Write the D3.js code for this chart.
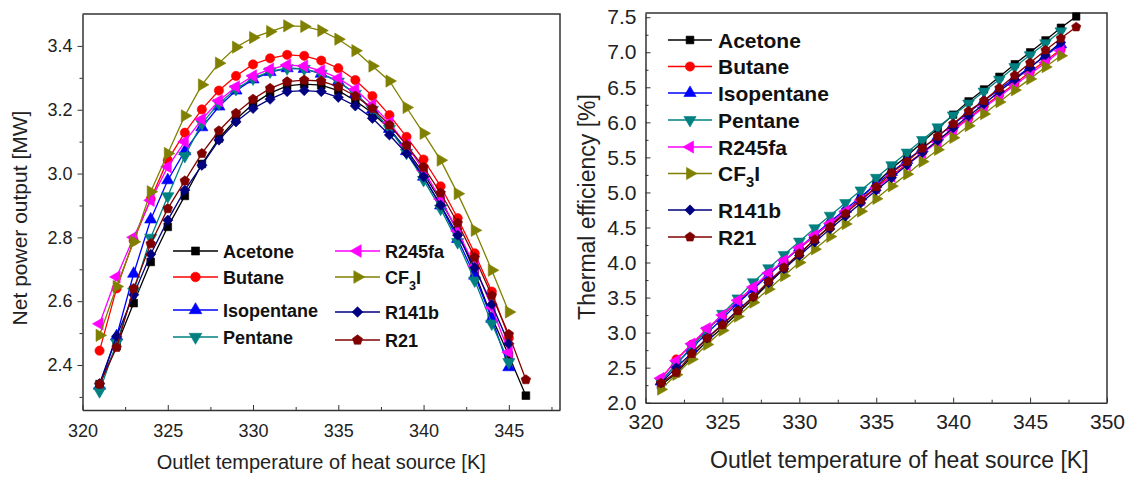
<!DOCTYPE html>
<html>
<head>
<meta charset="utf-8">
<title>ORC performance</title>
<script src="https://cdn.jsdelivr.net/npm/d3@7"></script>
<style>
  body { margin: 0; background: #fff; }
  svg { display: block; font-family: "Liberation Sans", Arial, sans-serif; }
  .axis path, .axis line { stroke: #333; }
  .axis text { fill: #222; }
</style>
</head>
<body>
<div id="chart"></div>
<script>
// temperatures of the heat source outlet [K]
const tempK = [321, 322, 323, 324, 325, 326, 327, 328, 329, 330, 331, 332, 333, 334,
               335, 336, 337, 338, 339, 340, 341, 342, 343, 344, 345, 346, 347, 348];

const fluids = ["Acetone", "Butane", "Isopentane", "Pentane", "R245fa", "CF3I", "R141b", "R21"];

// net power output [MW]
const powAcetone    = [2.34, 2.46, 2.594, 2.723, 2.833, 2.93, 3.03, 3.11, 3.17, 3.218, 3.252, 3.275, 3.28, 3.277, 3.26, 3.228, 3.19, 3.14, 3.075, 3.0, 2.915, 2.82, 2.69, 2.55, 2.43, 2.304];
const powButane     = [2.445, 2.64, 2.79, 2.92, 3.042, 3.128, 3.201, 3.26, 3.306, 3.342, 3.361, 3.372, 3.369, 3.354, 3.33, 3.293, 3.243, 3.183, 3.115, 3.044, 2.96, 2.86, 2.75, 2.63, 2.485];
const powIsopentane = [2.335, 2.49, 2.686, 2.856, 2.979, 3.07, 3.145, 3.21, 3.26, 3.295, 3.318, 3.33, 3.328, 3.313, 3.288, 3.25, 3.2, 3.14, 3.07, 2.99, 2.9, 2.795, 2.68, 2.545, 2.393];
const powPentane    = [2.318, 2.47, 2.63, 2.799, 2.929, 3.055, 3.157, 3.22, 3.265, 3.298, 3.32, 3.33, 3.328, 3.313, 3.288, 3.25, 3.2, 3.14, 3.065, 2.98, 2.89, 2.785, 2.665, 2.53, 2.409];
const powR245fa     = [2.529, 2.676, 2.80, 2.916, 3.021, 3.1, 3.17, 3.228, 3.272, 3.306, 3.327, 3.34, 3.337, 3.322, 3.299, 3.264, 3.215, 3.159, 3.09, 3.01, 2.92, 2.82, 2.71, 2.58, 2.44];
const powCF3I       = [2.493, 2.646, 2.786, 2.943, 3.063, 3.181, 3.278, 3.346, 3.396, 3.426, 3.445, 3.463, 3.461, 3.448, 3.421, 3.385, 3.337, 3.29, 3.207, 3.126, 3.042, 2.937, 2.822, 2.697, 2.566];
const powR141b      = [2.341, 2.49, 2.62, 2.747, 2.854, 2.948, 3.026, 3.105, 3.162, 3.204, 3.233, 3.257, 3.26, 3.257, 3.239, 3.212, 3.173, 3.121, 3.063, 2.99, 2.901, 2.807, 2.705, 2.59, 2.467];
const powR21        = [2.34, 2.455, 2.64, 2.78, 2.89, 2.977, 3.063, 3.134, 3.189, 3.233, 3.267, 3.288, 3.293, 3.29, 3.272, 3.243, 3.204, 3.152, 3.089, 3.02, 2.939, 2.845, 2.737, 2.618, 2.496, 2.354];

// thermal efficiency [%]
const effAcetone    = [2.25, 2.42, 2.66, 2.88, 3.07, 3.28, 3.48, 3.70, 3.91, 4.12, 4.33, 4.52, 4.72, 4.92, 5.13, 5.34, 5.52, 5.72, 5.91, 6.11, 6.30, 6.47, 6.65, 6.83, 7.00, 7.17, 7.35, 7.51];
const effButane     = [2.33, 2.62, 2.83, 3.04, 3.24, 3.44, 3.63, 3.83, 4.02, 4.20, 4.38, 4.56, 4.73, 4.90, 5.07, 5.24, 5.41, 5.57, 5.74, 5.90, 6.06, 6.23, 6.39, 6.55, 6.72, 6.88, 7.04];
const effIsopentane = [2.30, 2.55, 2.78, 2.99, 3.20, 3.42, 3.62, 3.82, 4.02, 4.21, 4.40, 4.58, 4.76, 4.94, 5.12, 5.29, 5.46, 5.63, 5.80, 5.97, 6.14, 6.31, 6.47, 6.63, 6.79, 6.95, 7.11];
const effPentane    = [2.30, 2.55, 2.80, 3.03, 3.27, 3.49, 3.72, 3.92, 4.11, 4.30, 4.49, 4.67, 4.85, 5.03, 5.21, 5.39, 5.57, 5.75, 5.93, 6.10, 6.27, 6.44, 6.61, 6.79, 6.96, 7.13, 7.30];
const effR245fa     = [2.35, 2.60, 2.84, 3.06, 3.25, 3.46, 3.65, 3.85, 4.03, 4.21, 4.39, 4.56, 4.73, 4.89, 5.06, 5.23, 5.39, 5.56, 5.72, 5.88, 6.05, 6.21, 6.37, 6.53, 6.69, 6.85, 7.02];
const effCF3I       = [2.19, 2.40, 2.62, 2.83, 3.03, 3.23, 3.43, 3.62, 3.81, 4.00, 4.19, 4.37, 4.55, 4.73, 4.91, 5.09, 5.26, 5.44, 5.61, 5.78, 5.95, 6.12, 6.29, 6.46, 6.62, 6.79, 6.95];
const effR141b      = [2.28, 2.50, 2.71, 2.92, 3.12, 3.32, 3.51, 3.71, 3.91, 4.10, 4.29, 4.48, 4.66, 4.85, 5.03, 5.21, 5.39, 5.57, 5.74, 5.92, 6.09, 6.26, 6.44, 6.61, 6.78, 6.96, 7.14];
const effR21        = [2.28, 2.43, 2.70, 2.92, 3.11, 3.31, 3.51, 3.73, 3.93, 4.13, 4.33, 4.51, 4.70, 4.89, 5.08, 5.28, 5.44, 5.63, 5.80, 5.98, 6.16, 6.31, 6.49, 6.67, 6.85, 7.03, 7.20, 7.36];

const powerSeries = [powAcetone, powButane, powIsopentane, powPentane, powR245fa, powCF3I, powR141b, powR21];
const effSeries   = [effAcetone, effButane, effIsopentane, effPentane, effR245fa, effCF3I, effR141b, effR21];

const colors  = ["#000000", "#ff0000", "#0000ff", "#008080", "#ff00ff", "#808000", "#000080", "#800000"];
const markers = ["square", "circle", "up", "down", "left", "right", "diamond", "pentagon"];

const width = 1131, height = 483;

const svg = d3.select("#chart").append("svg")
  .attr("width", width)
  .attr("height", height);

function pentagon(r) {
  const pts = d3.range(5).map(k => {
    const a = -Math.PI / 2 + k * 2 * Math.PI / 5;
    return [r * Math.cos(a), r * Math.sin(a)];
  });
  return "M" + pts.join("L") + "Z";
}

function markerShape(g, kind, color, s) {
  let p;
  if (kind == "square") p = g.append("path").attr("d", d3.symbol(d3.symbolSquare, 50 * s)());
  else if (kind == "circle") p = g.append("path").attr("d", d3.symbol(d3.symbolCircle, 56 * s)());
  else if (kind == "diamond") p = g.append("path").attr("d", d3.symbol(d3.symbolSquare, 44 * s)()).attr("transform", "rotate(45)");
  else if (kind == "pentagon") p = g.append("path").attr("d", pentagon(4.6 * Math.sqrt(s)));
  else {
    const rot = {up: 0, down: 180, left: -90, right: 90}[kind];
    p = g.append("path").attr("d", d3.symbol(d3.symbolTriangle, 54 * s)()).attr("transform", "rotate(" + rot + ")");
  }
  p.attr("fill", color).attr("stroke", color).attr("stroke-width", 0.6);
}

function drawSeries(layer, x, y, series, s) {
  series.forEach((vals, i) => {
    const pts = vals.map((v, j) => [tempK[j], v]);
    layer.append("path")
      .datum(pts)
      .attr("fill", "none")
      .attr("stroke", colors[i])
      .attr("stroke-width", 1.3)
      .attr("d", d3.line().x(d => x(d[0])).y(d => y(d[1])));
    layer.selectAll(null)
      .data(pts)
      .enter().append("g")
      .attr("transform", d => "translate(" + x(d[0]) + "," + y(d[1]) + ")")
      .each(function() { markerShape(d3.select(this), markers[i], colors[i], s); });
  });
}

function legendLabel(t, name, size) {
  if (name == "CF3I") {
    t.append("tspan").text("CF");
    t.append("tspan").attr("dy", 6).attr("font-size", size * 0.7).text("3");
    t.append("tspan").attr("dy", -6).text("I");
  } else t.text(name);
}

// ---------------- left: net power output ----------------
const xL = d3.scaleLinear().domain([320, 348]).range([82.5, 560]);
const yL = d3.scaleLinear().domain([2.259, 3.5]).range([410, 14]);

const left = svg.append("g");

left.append("g").attr("class", "axis").attr("transform", "translate(0,410)")
  .call(d3.axisBottom(xL).tickValues([320, 325, 330, 335, 340, 345]).tickFormat(d3.format("d"))
    .tickSizeInner(-5).tickSizeOuter(0).tickPadding(14))
  .call(g => g.selectAll("text").attr("font-size", 18))
  .call(g => g.select(".domain").attr("stroke-width", 1.5));
left.append("g").attr("class", "axis").attr("transform", "translate(0,410)")
  .call(d3.axisBottom(xL).tickValues([322.5, 327.5, 332.5, 337.5, 342.5, 347.5]).tickFormat("")
    .tickSizeInner(-3).tickSizeOuter(0))
  .call(g => g.select(".domain").remove());

left.append("g").attr("class", "axis").attr("transform", "translate(82.5,0)")
  .call(d3.axisLeft(yL).tickValues([2.4, 2.6, 2.8, 3.0, 3.2, 3.4]).tickFormat(d3.format(".1f"))
    .tickSizeInner(5).tickSizeOuter(0).tickPadding(5))
  .call(g => g.selectAll("text").attr("font-size", 18))
  .call(g => g.select(".domain").attr("stroke-width", 1.5));
left.append("g").attr("class", "axis").attr("transform", "translate(82.5,0)")
  .call(d3.axisLeft(yL).tickValues([2.3, 2.5, 2.7, 2.9, 3.1, 3.3]).tickFormat("")
    .tickSizeInner(3).tickSizeOuter(0))
  .call(g => g.select(".domain").remove());

// top and right frame
left.append("path")
  .attr("d", "M" + xL(320) + "," + yL(3.5) + "H" + xL(348) + "V" + yL(2.259))
  .attr("fill", "none").attr("stroke", "#333").attr("stroke-width", 1.5);

drawSeries(left.append("g"), xL, yL, powerSeries, 1.2);

left.append("text")
  .attr("x", xL(334)).attr("y", 469)
  .attr("text-anchor", "middle").attr("font-size", 20).attr("fill", "#222")
  .text("Outlet temperature of heat source [K]");
left.append("text")
  .attr("transform", "translate(27,218) rotate(-90)")
  .attr("text-anchor", "middle").attr("font-size", 21).attr("fill", "#222")
  .text("Net power output [MW]");

// two-column legend
const legL = left.append("g");
const legRowsL = [[173, 251], [173, 277], [173, 310], [173, 337], [335, 251], [335, 277], [335, 312], [335, 340]];
fluids.forEach((name, i) => {
  const row = legL.append("g").attr("transform", "translate(" + legRowsL[i][0] + "," + legRowsL[i][1] + ")");
  row.append("line").attr("x1", 0).attr("x2", 45).attr("stroke", colors[i]).attr("stroke-width", 1.3);
  markerShape(row.append("g").attr("transform", "translate(22.5,0)"), markers[i], colors[i], 1.3);
  const t = row.append("text").attr("x", 50).attr("y", 6.5)
    .attr("font-size", 18).attr("font-weight", "bold").attr("fill", "#111");
  legendLabel(t, name, 18);
});

// ---------------- right: thermal efficiency ----------------
const xR = d3.scaleLinear().domain([320, 350]).range([645.5, 1107]);
const yR = d3.scaleLinear().domain([2.0, 7.56]).range([402.7, 13]);

const right = svg.append("g");

right.append("g").attr("class", "axis").attr("transform", "translate(0,402.7)")
  .call(d3.axisBottom(xR).tickValues([320, 325, 330, 335, 340, 345, 350]).tickFormat(d3.format("d"))
    .tickSizeInner(-5).tickSizeOuter(0).tickPadding(11))
  .call(g => g.selectAll("text").attr("font-size", 21))
  .call(g => g.select(".domain").attr("stroke-width", 1.5));
right.append("g").attr("class", "axis").attr("transform", "translate(0,402.7)")
  .call(d3.axisBottom(xR).tickValues([322.5, 327.5, 332.5, 337.5, 342.5, 347.5]).tickFormat("")
    .tickSizeInner(-3).tickSizeOuter(0))
  .call(g => g.select(".domain").remove());

right.append("g").attr("class", "axis").attr("transform", "translate(645.5,0)")
  .call(d3.axisLeft(yR).tickValues(d3.range(2.0, 7.51, 0.5)).tickFormat(d3.format(".1f"))
    .tickSizeInner(-5).tickSizeOuter(0).tickPadding(9))
  .call(g => g.selectAll("text").attr("font-size", 21))
  .call(g => g.select(".domain").attr("stroke-width", 1.5));
right.append("g").attr("class", "axis").attr("transform", "translate(645.5,0)")
  .call(d3.axisLeft(yR).tickValues(d3.range(2.25, 7.5, 0.5)).tickFormat("")
    .tickSizeInner(-3).tickSizeOuter(0))
  .call(g => g.select(".domain").remove());

right.append("path")
  .attr("d", "M" + xR(320) + "," + yR(7.56) + "H" + xR(350) + "V" + yR(2.0))
  .attr("fill", "none").attr("stroke", "#333").attr("stroke-width", 1.5);

drawSeries(right.append("g"), xR, yR, effSeries, 1.1);

right.append("text")
  .attr("x", xR(336.5)).attr("y", 468)
  .attr("text-anchor", "middle").attr("font-size", 23).attr("fill", "#222")
  .text("Outlet temperature of heat source [K]");
right.append("text")
  .attr("transform", "translate(595,207) rotate(-90)")
  .attr("text-anchor", "middle").attr("font-size", 23).attr("fill", "#222")
  .text("Thermal efficiency [%]");

const legR = right.append("g").attr("transform", "translate(668,0)");
const legRowsR = [40, 66.5, 93, 120, 147, 173.5, 210, 237];
fluids.forEach((name, i) => {
  const row = legR.append("g").attr("transform", "translate(0," + legRowsR[i] + ")");
  row.append("line").attr("x1", 0).attr("x2", 44).attr("stroke", colors[i]).attr("stroke-width", 1.3);
  markerShape(row.append("g").attr("transform", "translate(22,0)"), markers[i], colors[i], 1.2);
  const t = row.append("text").attr("x", 50).attr("y", 7.5)
    .attr("font-size", 21).attr("font-weight", "bold").attr("fill", "#111");
  legendLabel(t, name, 21);
});
</script>
</body>
</html>
